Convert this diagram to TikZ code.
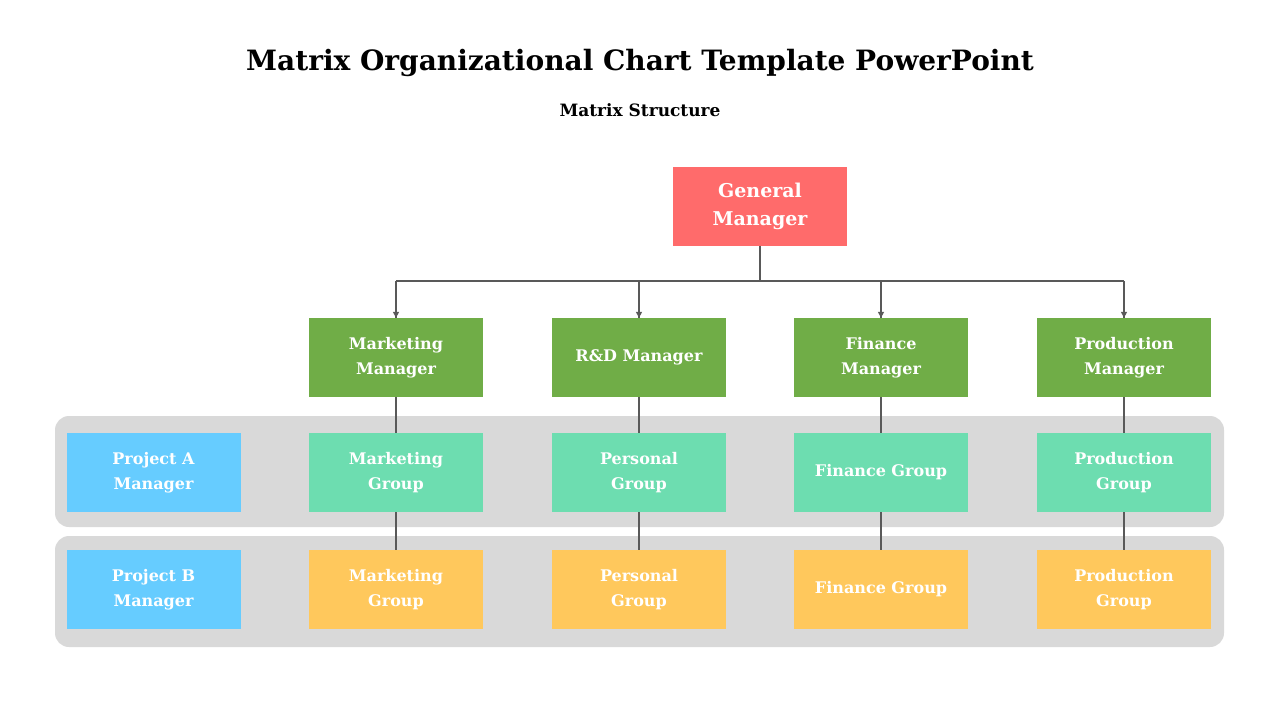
\documentclass[tikz,border=0pt]{standalone}
\usepackage{fontspec}
\setmainfont{DejaVu Serif}
\usetikzlibrary{arrows.meta}
\definecolor{gmred}{HTML}{FF6B6B}
\definecolor{mgrgreen}{HTML}{70AD47}
\definecolor{projblue}{HTML}{66CCFF}
\definecolor{grpteal}{HTML}{6DDDB0}
\definecolor{grporange}{HTML}{FFC85C}
\definecolor{bandgray}{HTML}{D9D9D9}
\definecolor{linegray}{HTML}{595959}
\tikzset{
  box/.style={minimum width=174pt, minimum height=79pt, align=center,
    text=white, font=\fontsize{16}{25}\selectfont\bfseries, inner sep=0pt},
  link/.style={draw=linegray, line width=1.5pt},
}
\begin{document}
\begin{tikzpicture}[x=1pt,y=-1pt]
\useasboundingbox (0,0) rectangle (1280,720);

\node at (640,63) {\fontsize{28}{30}\selectfont\bfseries Matrix Organizational Chart Template PowerPoint};
\node at (640,110) {\fontsize{17}{20}\selectfont\bfseries Matrix Structure};

% bands
\fill[bandgray, rounded corners=14pt] (55,416) rectangle (1224,527);
\fill[bandgray, rounded corners=14pt] (55,536) rectangle (1224,647);

% columns
\foreach \x/\n in {396/1,639/2,881/3,1124/4}{
  \coordinate (c\n) at (\x,281);
  \coordinate (e\n) at (\x,590);
}
\foreach \n in {1,...,4}
  \draw[link] (c\n) -- (e\n);

\node[box, fill=gmred, font=\fontsize{19}{28}\selectfont\bfseries] (gm) at (760,206) {General\\Manager};

\node[box, fill=mgrgreen] (m1) at (396,357.5) {Marketing\\Manager};
\node[box, fill=mgrgreen] (m2) at (639,357.5) {R\&D Manager};
\node[box, fill=mgrgreen] (m3) at (881,357.5) {Finance\\Manager};
\node[box, fill=mgrgreen] (m4) at (1124,357.5) {Production\\Manager};

\node[box, fill=projblue] (pa) at (153.5,472.5) {Project A\\Manager};
\node[box, fill=grpteal] (a1) at (396,472.5) {Marketing\\Group};
\node[box, fill=grpteal] (a2) at (639,472.5) {Personal\\Group};
\node[box, fill=grpteal] (a3) at (881,472.5) {Finance Group};
\node[box, fill=grpteal] (a4) at (1124,472.5) {Production\\Group};

\node[box, fill=projblue] (pb) at (153.5,589.5) {Project B\\Manager};
\node[box, fill=grporange] (b1) at (396,589.5) {Marketing\\Group};
\node[box, fill=grporange] (b2) at (639,589.5) {Personal\\Group};
\node[box, fill=grporange] (b3) at (881,589.5) {Finance Group};
\node[box, fill=grporange] (b4) at (1124,589.5) {Production\\Group};

% top connectors
\draw[link] (gm.south) -- (gm.south |- c1);
\draw[link] (c1) -- (c4);
\foreach \n in {1,...,4}
  \draw[link, -{Triangle[length=6pt,width=6pt]}] (c\n) -- (m\n.north);
\end{tikzpicture}
\end{document}
